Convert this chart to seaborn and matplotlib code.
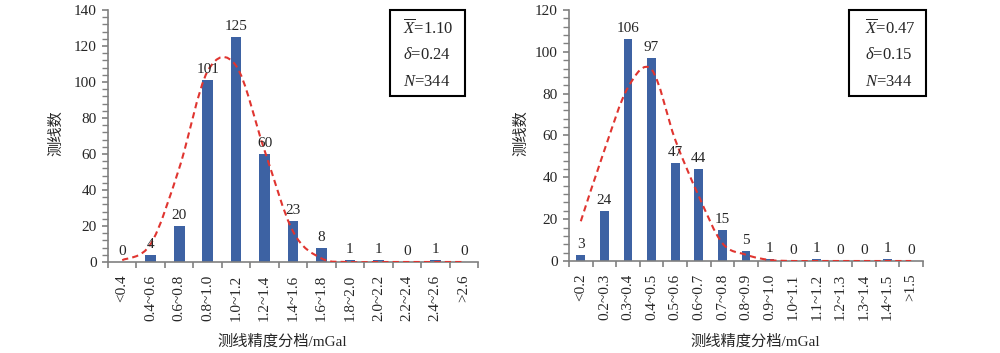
import numpy as np
import pandas as pd
import seaborn as sns
import matplotlib.pyplot as plt
from matplotlib.path import Path
from matplotlib.patches import PathPatch, Rectangle
from matplotlib.ticker import MultipleLocator

# left panel
left_bins = ['<0.4', '0.4~0.6', '0.6~0.8', '0.8~1.0', '1.0~1.2', '1.2~1.4', '1.4~1.6',
             '1.6~1.8', '1.8~2.0', '2.0~2.2', '2.2~2.4', '2.4~2.6', '>2.6']
left_counts = [0, 4, 20, 101, 125, 60, 23, 8, 1, 1, 0, 1, 0]
left_curve = [1, 10, 52, 106, 109, 62, 17, 2, 0, 0, 0, 0, 0]
left_stats = ['$\\overline{X}$=1.10', '$\\delta$=0.24', '$N$=344']

# right panel
right_bins = ['<0.2', '0.2~0.3', '0.3~0.4', '0.4~0.5', '0.5~0.6', '0.6~0.7', '0.7~0.8',
              '0.8~0.9', '0.9~1.0', '1.0~1.1', '1.1~1.2', '1.2~1.3', '1.3~1.4', '1.4~1.5', '>1.5']
right_counts = [3, 24, 106, 97, 47, 44, 15, 5, 1, 0, 1, 0, 0, 1, 0]
right_curve = [19, 53, 83, 91.5, 58, 31, 8.5, 3, 0.5, 0, 0, 0, 0, 0, 0]
right_stats = ['$\\overline{X}$=0.47', '$\\delta$=0.15', '$N$=344']

BAR = '#3D62A3'
RED = '#E03530'
GREY = '#808080'

sns.set_style('ticks')
plt.rcParams['font.family'] = ['Liberation Serif', 'Noto Sans CJK SC']
plt.rcParams['mathtext.fontset'] = 'custom'
plt.rcParams['mathtext.rm'] = 'Liberation Serif'
plt.rcParams['mathtext.it'] = 'Liberation Serif:italic'


def smooth_curve(ax, ys):
    # excel-like smoothed line (catmull-rom as bezier)
    n = len(ys)
    xs = list(range(n))
    verts = [(xs[0], ys[0])]
    codes = [Path.MOVETO]
    for i in range(n - 1):
        a = max(i - 1, 0)
        b = min(i + 2, n - 1)
        c1 = (xs[i] + (xs[i + 1] - xs[a]) / 6, ys[i] + (ys[i + 1] - ys[a]) / 6)
        c2 = (xs[i + 1] - (xs[b] - xs[i]) / 6, ys[i + 1] - (ys[b] - ys[i]) / 6)
        verts += [c1, c2, (xs[i + 1], ys[i + 1])]
        codes += [Path.CURVE4] * 3
    ax.add_patch(PathPatch(Path(verts, codes), fill=False, ec=RED, lw=1.5,
                           ls=(0, (3, 2)), zorder=3))


def panel(fig, rect, bins, counts, curve, ymax, ylab_xy, xlab_xy):
    ax = fig.add_axes(rect)
    df = pd.DataFrame({'bin': bins, 'n': counts})
    sns.barplot(data=df, x='bin', y='n', ax=ax, color=BAR, saturation=1,
                width=0.38, linewidth=0, order=bins)
    smooth_curve(ax, curve)
    for i, v in enumerate(counts):
        ax.annotate(str(v), (i, v), xytext=(0, 5), textcoords='offset points',
                    ha='center', va='baseline', fontsize=11)
    n = len(bins)
    ax.set_xlim(-0.5, n - 0.5)
    ax.set_ylim(0, ymax)
    ax.set_yticks(range(0, ymax + 1, 20))
    ax.yaxis.set_minor_locator(MultipleLocator(4))
    ax.set_xticks(range(n))
    ax.set_xticklabels(bins, rotation=90, fontsize=11)
    ax.set_xticks(np.arange(-0.5, n, 1), minor=True)
    ax.tick_params(axis='x', which='major', length=0, pad=9)
    ax.tick_params(axis='x', which='minor', length=4, width=1.2, color=GREY)
    ax.tick_params(axis='y', which='major', length=4, width=1.2, color=GREY,
                   labelsize=11, pad=4)
    ax.tick_params(axis='y', which='minor', length=4, width=1, color=GREY)
    for s in ['top', 'right']:
        ax.spines[s].set_visible(False)
    for s in ['left', 'bottom']:
        ax.spines[s].set_color(GREY)
        ax.spines[s].set_linewidth(1.2)
    ax.set_ylabel('测线数', fontsize=11)
    ax.set_xlabel('测线精度分档/mGal', fontsize=11)
    ax.yaxis.set_label_coords(*ylab_xy)
    ax.xaxis.set_label_coords(*xlab_xy)
    return ax


def stats_box(fig, x0, x1, tx, lines):
    W, H = 1000, 353
    fig.add_artist(Rectangle((x0 / W, 1 - 96 / H), (x1 - x0) / W, 86 / H,
                             transform=fig.transFigure, fill=False, ec='black', lw=1.5))
    for y, t in zip([28, 55, 82], lines):
        fig.text(tx / W, 1 - y / H, t, ha='left', va='center', fontsize=12)


fig = plt.figure(figsize=(10, 3.53), dpi=100)
panel(fig, [0.108, 0.2578, 0.370, 0.7139], left_bins, left_counts, left_curve, 140,
      (-0.12, 0.512), (0.47, -0.286))
panel(fig, [0.569, 0.2606, 0.354, 0.7111], right_bins, right_counts, right_curve, 120,
      (-0.116, 0.51), (0.525, -0.291))
stats_box(fig, 390, 465, 403, left_stats)
stats_box(fig, 849, 926, 865, right_stats)

plt.savefig('out.png', dpi=100)
